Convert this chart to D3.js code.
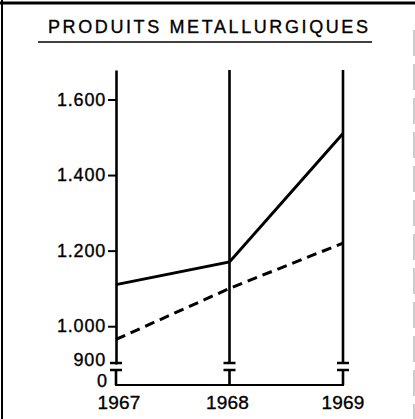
<!DOCTYPE html>
<html>
<head>
<meta charset="utf-8">
<script src="https://cdn.jsdelivr.net/npm/d3@7"></script>
<style>
  html, body { margin: 0; padding: 0; background: #fff; }
  svg { display: block; font-family: "Liberation Sans", Arial, sans-serif; }
  text { fill: #000; stroke: #000; stroke-width: 0.35px; }
</style>
</head>
<body>
<script>
'use strict';

// data
const years = [1967, 1968, 1969];
const solidValues = [1110, 1170, 1510];
const dashedValues = [965, 1100, 1220];
const yTicks = [900, 1000, 1200, 1400, 1600];
const title = "PRODUITS METALLURGIQUES";

(function() {
  const width = 415, height = 419;
  const baseY = 385;      // the "0" line under the break
  const lowTopY = 370;    // top cap of the short lower segment

  const svg = d3.select('body').append('svg')
    .attr('width', width)
    .attr('height', height);

  // frame
  svg.append('line').attr('x1', 0).attr('x2', width).attr('y1', 3).attr('y2', 3)
    .attr('stroke', '#000').attr('stroke-width', 3);
  svg.append('line').attr('x1', 2).attr('x2', 2).attr('y1', 0).attr('y2', height)
    .attr('stroke', '#000').attr('stroke-width', 2);
  svg.append('line').attr('x1', 414).attr('x2', 414).attr('y1', 30).attr('y2', height)
    .attr('stroke', '#bbb').attr('stroke-width', 1.5).attr('stroke-dasharray', '26,8');

  // title + underline
  svg.append('text')
    .attr('x', 48).attr('y', 33)
    .attr('textLength', 320).attr('lengthAdjust', 'spacing')
    .style('font-size', '18px')
    .text(title);
  svg.append('line').attr('x1', 38).attr('x2', 372).attr('y1', 42).attr('y2', 42)
    .attr('stroke', '#000').attr('stroke-width', 1.5);

  // scales
  const x = d3.scalePoint().domain(years).range([116, 343]);
  const y = d3.scaleLinear().domain([900, 1678]).range([364, 70]);
  const breakY = y(900) - 1;

  const fmt = d3.formatLocale({ decimal: ',', thousands: '.', grouping: [3], currency: ['', ''] }).format(',');

  // left axis with ticks (1967)
  const yAxis = d3.axisLeft(y)
    .tickValues(yTicks)
    .tickSize(8)
    .tickSizeOuter(0)
    .tickPadding(2)
    .tickFormat(fmt);
  const gAxis = svg.append('g')
    .attr('transform', `translate(${x(1967)},0)`)
    .call(yAxis);
  gAxis.attr('font-family', null);
  gAxis.select('.domain').attr('stroke-width', 2.6);
  gAxis.selectAll('.tick line').attr('stroke-width', 2);
  gAxis.selectAll('.tick text')
    .style('font-family', '"Liberation Sans", Arial, sans-serif')
    .style('font-size', '18px')
    .style('letter-spacing', '0.8px');
  const t900 = gAxis.selectAll('.tick').filter(d => d === 900);
  t900.select('line').remove();
  t900.select('text').attr('dy', '0.06em');

  // the other upright axes
  svg.selectAll('.upright')
    .data(years.slice(1))
    .enter()
    .append('line')
      .attr('class', 'upright')
      .attr('x1', d => x(d)).attr('x2', d => x(d))
      .attr('y1', y(1678)).attr('y2', breakY)
      .attr('stroke', '#000').attr('stroke-width', 2.6);

  // broken-axis caps and the short lower segments
  const caps = svg.append('g').attr('stroke', '#000');
  years.forEach(function(yr) {
    const cx = x(yr);
    caps.append('line').attr('x1', cx - 6).attr('x2', cx + 6)
      .attr('y1', breakY).attr('y2', breakY).attr('stroke-width', 2.5);
    caps.append('line').attr('x1', cx - 6).attr('x2', cx + 6)
      .attr('y1', lowTopY).attr('y2', lowTopY).attr('stroke-width', 2.5);
    caps.append('line').attr('x1', cx).attr('x2', cx)
      .attr('y1', lowTopY).attr('y2', baseY).attr('stroke-width', 2.6);
  });

  // zero line
  svg.append('line')
    .attr('x1', x(1967) - 1).attr('x2', x(1969) + 1)
    .attr('y1', baseY).attr('y2', baseY)
    .attr('stroke', '#000').attr('stroke-width', 2.2);
  svg.append('text')
    .attr('x', 107).attr('y', 387)
    .attr('text-anchor', 'end')
    .style('font-size', '18px')
    .text('0');

  // year labels
  svg.selectAll('.year')
    .data(years)
    .enter()
    .append('text')
      .attr('class', 'year')
      .attr('x', d => x(d) + (d === 1967 ? 3 : d === 1968 ? -2 : 0))
      .attr('y', 409)
      .attr('text-anchor', 'middle')
      .style('font-size', '19px')
      .style('letter-spacing', '0.2px')
      .text(d => d);

  // series lines
  const line = d3.line()
    .x(d => x(d.year))
    .y(d => y(d.value));

  svg.append('path')
    .datum(years.map((yr, i) => ({ year: yr, value: solidValues[i] })))
    .attr('d', line)
    .attr('fill', 'none')
    .attr('stroke', '#000')
    .attr('stroke-width', 3);

  svg.append('path')
    .datum(years.map((yr, i) => ({ year: yr, value: dashedValues[i] })))
    .attr('d', line)
    .attr('fill', 'none')
    .attr('stroke', '#000')
    .attr('stroke-width', 3)
    .attr('stroke-dasharray', '10,6');
})();
</script>
</body>
</html>
